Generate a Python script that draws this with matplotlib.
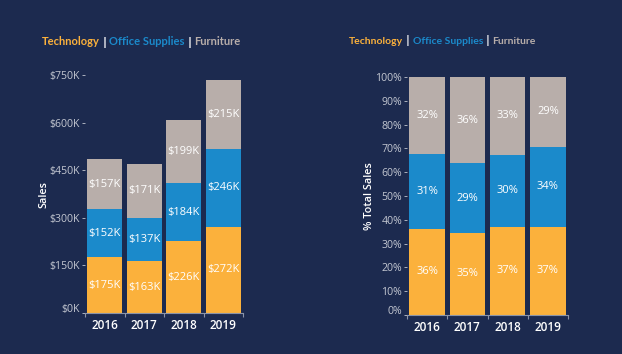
import numpy as np
import matplotlib
matplotlib.use('Agg')
import matplotlib.pyplot as plt
import matplotlib.transforms as mtransforms
from matplotlib.offsetbox import TextArea, HPacker, AnchoredOffsetbox

years = ['2016', '2017', '2018', '2019']
categories = ['Technology', 'Office Supplies', 'Furniture']
technology = [175, 163, 226, 272]
office_supplies = [152, 137, 184, 246]
furniture = [157, 171, 199, 215]
sales_ticks = [0, 150, 300, 450, 600, 750]
pct_ticks = [0, 10, 20, 30, 40, 50, 60, 70, 80, 90, 100]

bg = '#1c2a4f'
colors = ['#fbb13c', '#1b8acb', '#b8aeaa']
tick_col = '#c3c7d1'

plt.rcParams['font.family'] = ['Open Sans', 'DejaVu Sans']

fig = plt.figure(figsize=(6.22, 3.54), dpi=100, facecolor=bg)
ax1 = fig.add_axes([85/622, 1-313/354, 158/622, 238/354])
ax2 = fig.add_axes([407/622, 1-315/354, 161/622, 238/354])

series = [technology, office_supplies, furniture]
totals = np.sum(series, axis=0)
x = np.arange(len(years))
w = 0.88


def style(ax, ylabel):
    ax.set_facecolor(bg)
    for s in ['left', 'right', 'top']:
        ax.spines[s].set_visible(False)
    ax.spines['bottom'].set_color('#8a93a8')
    ax.spines['bottom'].set_linewidth(0.8)
    ax.set_xlim(-0.5, 3.5)
    ax.set_xticks(x)
    ax.set_xticklabels(years, color='white', fontsize=8.5, fontweight='semibold')
    ax.tick_params(axis='x', length=0, pad=4)
    ax.set_xticks([-0.5, 0.5, 1.5, 2.5, 3.5], minor=True)
    ax.tick_params(axis='x', which='minor', length=3, color='#8a93a8', width=0.8)
    ax.tick_params(axis='y', length=2.5, color=tick_col, labelcolor=tick_col,
                   labelsize=7.6, pad=1, width=0.6)
    ax.set_ylabel(ylabel, color='white', fontsize=7.8, fontweight='semibold', labelpad=0)
    # the zero label sits a little above its tick
    lab = ax.get_yticklabels()[0]
    lab.set_transform(lab.get_transform() +
                      mtransforms.ScaledTranslation(0, 5/100, fig.dpi_scale_trans))


# absolute sales
bottom = np.zeros(4)
for vals, c in zip(series, colors):
    bars = ax1.bar(x, vals, w, bottom=bottom, color=c, edgecolor='none')
    ax1.bar_label(bars, labels=[f'${v}K' for v in vals], label_type='center',
                  color='white', fontsize=8)
    bottom += vals
ax1.set_ylim(0, 750)
ax1.set_yticks(sales_ticks)
ax1.set_yticklabels([f'${t}K' for t in sales_ticks])
style(ax1, 'Sales')

# percent of total
bottom = np.zeros(4)
for vals, c in zip(series, colors):
    pct = np.array(vals) / totals * 100
    bars = ax2.bar(x, pct, w, bottom=bottom, color=c, edgecolor='none')
    ax2.bar_label(bars, labels=[f'{p:.0f}%' for p in pct], label_type='center',
                  color='white', fontsize=8)
    bottom += pct
ax2.set_ylim(0, 100)
ax2.set_yticks(pct_ticks)
ax2.set_yticklabels([f'{t}%' for t in pct_ticks])
style(ax2, '% Total Sales')


def title(xpos, ypos, size):
    parts = []
    for i, (name, c) in enumerate(zip(categories, colors)):
        if i > 0:
            parts.append(TextArea('|', textprops=dict(color='white', fontsize=size,
                                                      fontweight='bold',
                                                      family='DejaVu Sans')))
        parts.append(TextArea(name, textprops=dict(color=c, fontsize=size,
                                                   fontweight='bold', family='Lato')))
    box = HPacker(children=parts, align='baseline', pad=0, sep=2)
    anch = AnchoredOffsetbox(loc='center left', child=box, frameon=False, pad=0,
                             bbox_to_anchor=(xpos, ypos),
                             bbox_transform=fig.transFigure, borderpad=0)
    fig.add_artist(anch)


title(42/622, 1-42/354, 8)
title(349/622, 1-41/354, 7.5)

fig.savefig('out.png', dpi=100, facecolor=bg)
